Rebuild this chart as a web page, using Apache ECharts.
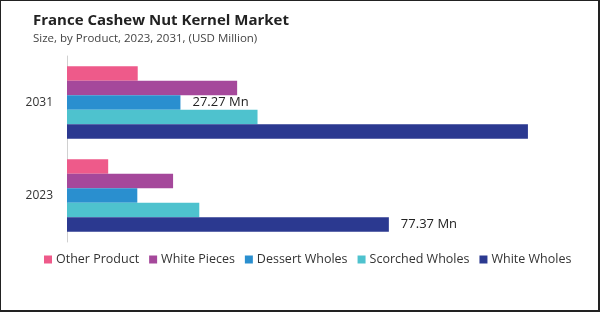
<!DOCTYPE html>
<html><head><meta charset="utf-8">
<script src="https://cdn.jsdelivr.net/npm/echarts@6/dist/echarts.min.js"></script>
<style>
html,body{margin:0;padding:0;background:#fff;}
#frame{position:absolute;left:0;top:0;width:600px;height:312px;box-sizing:border-box;border:1px solid #222;border-right:2px solid #222;border-bottom:2px solid #222;}
#c{position:absolute;left:0;top:0;width:600px;height:312px;}
</style></head>
<body>
<div id="c"></div><div id="frame"></div>
<script>
const categories = ['2023', '2031'];
const legendOrder = ['Other Product', 'White Pieces', 'Dessert Wholes', 'Scorched Wholes', 'White Wholes'];
const otherProduct = [9.9, 17.0];
const whitePieces = [25.5, 40.9];
const dessertWholes = [16.9, 27.27];
const scorchedWholes = [31.8, 45.8];
const whiteWholes = [77.37, 110.8];
const labels = { 'Dessert Wholes': [null, '27.27 Mn'], 'White Wholes': ['77.37 Mn', null] };
const colors = { 'Other Product': '#EE5A8A', 'White Pieces': '#A5489B', 'Dessert Wholes': '#2A8FCF', 'Scorched Wholes': '#4EC2CE', 'White Wholes': '#2B3990' };
const seriesData = { 'Other Product': otherProduct, 'White Pieces': whitePieces, 'Dessert Wholes': dessertWholes, 'Scorched Wholes': scorchedWholes, 'White Wholes': whiteWholes };

const series = legendOrder.map(name => ({
  name, type: 'bar', barGap: '0%', barCategoryGap: '22%',
  itemStyle: { color: colors[name] },
  data: seriesData[name].map((v, i) => {
    const lab = labels[name] && labels[name][i];
    return lab ? { value: v, label: { show: true, position: 'right', distance: 12, formatter: lab, color: '#222', fontSize: 13, fontFamily: 'Open Sans' } } : v;
  })
}));

const chart = echarts.init(document.getElementById('c'), null, { renderer: 'canvas' });
chart.setOption({
  animation: false,
  title: {
    text: 'France Cashew Nut Kernel Market',
    subtext: 'Size, by Product, 2023, 2031, (USD Million)',
    left: 28, top: 8, itemGap: 5,
    textStyle: { fontSize: 15, fontWeight: 'bold', color: '#222', fontFamily: 'Open Sans' },
    subtextStyle: { fontSize: 11.5, color: '#444', fontFamily: 'Open Sans' }
  },
  legend: {
    data: legendOrder, top: 248, left: 39, itemWidth: 8, itemHeight: 8, itemGap: 10,
    icon: 'rect',
    textStyle: { fontSize: 12.5, color: '#333', fontFamily: 'Open Sans', padding: [0, 0, 0, -1] }
  },
  grid: { left: 67, top: 56, width: 520, height: 186, containLabel: false },
  xAxis: { type: 'value', min: 0, max: 125, show: false, splitLine: { show: false } },
  yAxis: {
    type: 'category', data: categories,
    axisLine: { show: true, lineStyle: { color: '#d0d0d0' } },
    axisTick: { show: false },
    axisLabel: { margin: 14, fontSize: 12, color: '#333', fontFamily: 'Open Sans' }
  },
  series
});
</script>
</body></html>
